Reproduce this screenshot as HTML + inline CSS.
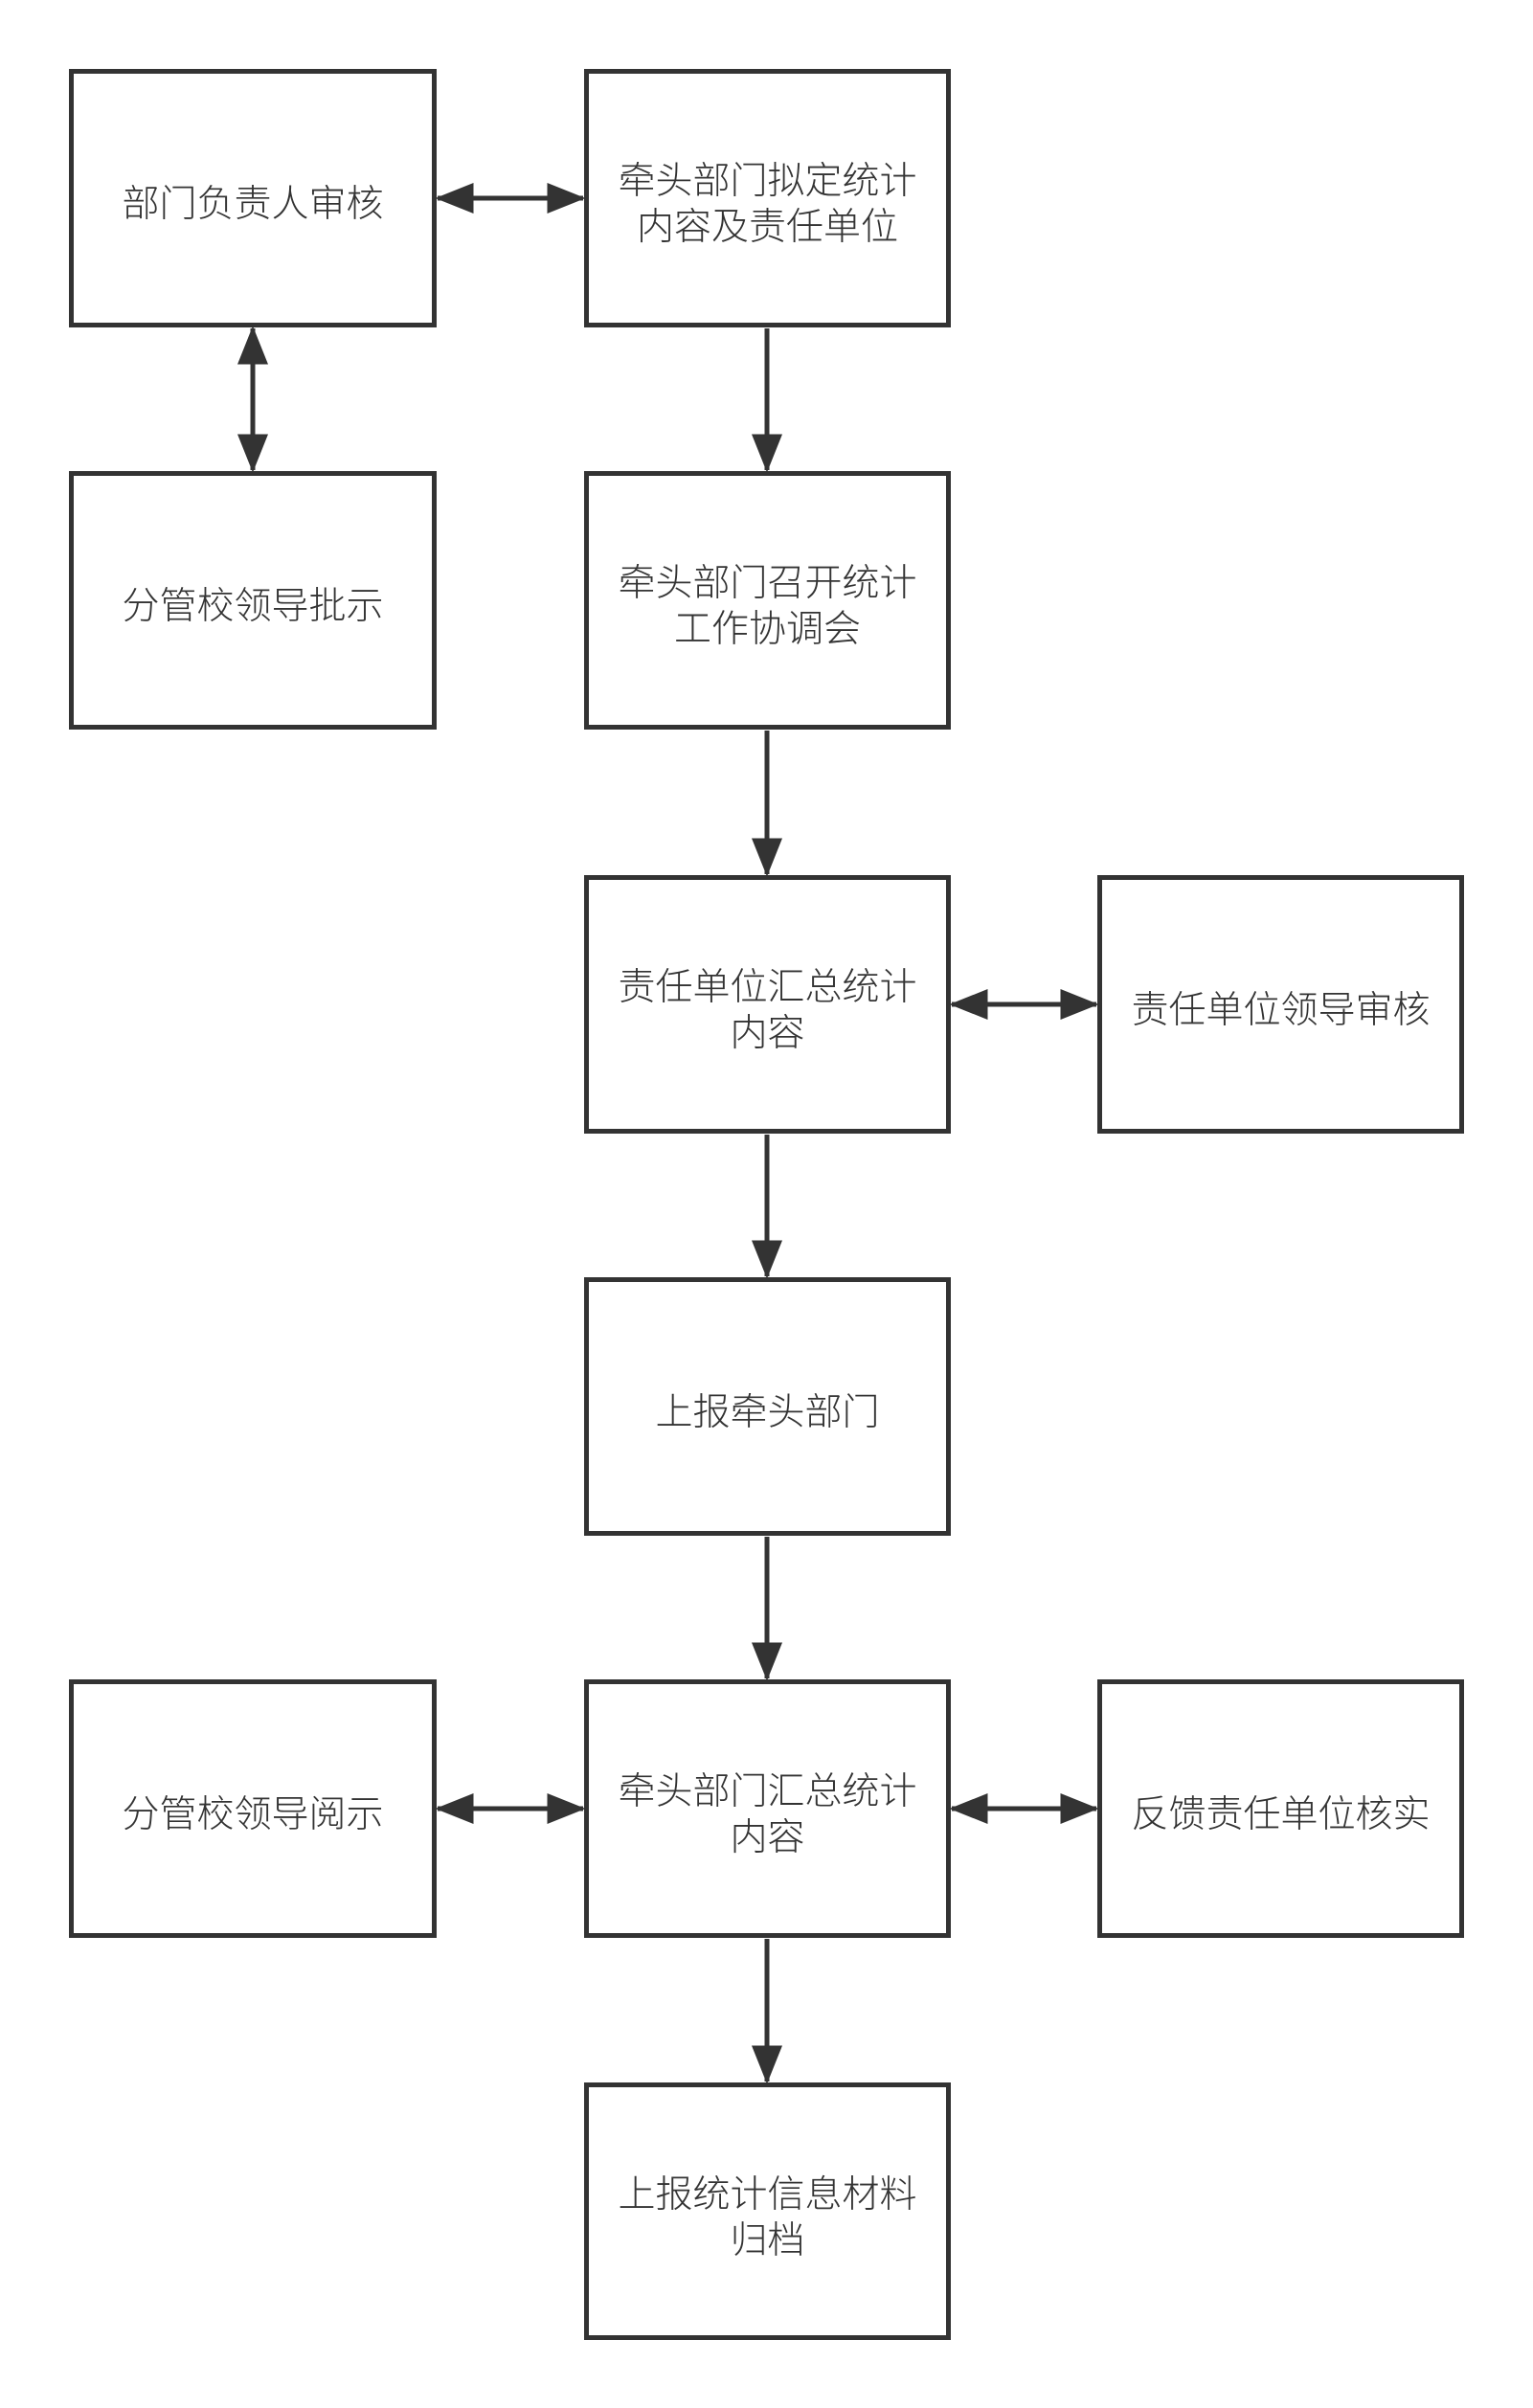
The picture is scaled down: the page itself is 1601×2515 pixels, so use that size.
<!DOCTYPE html>
<html><head><meta charset="utf-8"><style>
html,body{margin:0;padding:0;background:#fff}
body{width:1601px;height:2515px;position:relative;overflow:hidden;font-family:"Liberation Sans","Noto Sans CJK SC",sans-serif;color:#333}
.b{position:absolute;box-sizing:border-box;border:5px solid #333;background:#fff;display:flex;align-items:center;justify-content:center;text-align:center;font-size:39px;line-height:48px;font-weight:300;padding-top:14px}
svg{position:absolute;left:0;top:0}
</style></head><body>
<svg width="1601" height="2515" viewBox="0 0 1601 2515">
<defs>
<marker id="a" markerWidth="8" markerHeight="6.4" refX="7.5" refY="3.2" orient="auto-start-reverse" markerUnits="strokeWidth"><path d="M0,0 L8,3.2 L0,6.4 Z" fill="#333"/></marker>
</defs>
<g stroke="#333" stroke-width="5" fill="none">
<line x1="457" y1="207" x2="609" y2="207" marker-start="url(#a)" marker-end="url(#a)"/>
<line x1="264" y1="343" x2="264" y2="491" marker-start="url(#a)" marker-end="url(#a)"/>
<line x1="801" y1="343" x2="801" y2="491" marker-end="url(#a)"/>
<line x1="801" y1="763" x2="801" y2="913" marker-end="url(#a)"/>
<line x1="994" y1="1049" x2="1145" y2="1049" marker-start="url(#a)" marker-end="url(#a)"/>
<line x1="801" y1="1185" x2="801" y2="1333" marker-end="url(#a)"/>
<line x1="801" y1="1605" x2="801" y2="1753" marker-end="url(#a)"/>
<line x1="457" y1="1889" x2="609" y2="1889" marker-start="url(#a)" marker-end="url(#a)"/>
<line x1="994" y1="1889" x2="1145" y2="1889" marker-start="url(#a)" marker-end="url(#a)"/>
<line x1="801" y1="2025" x2="801" y2="2174" marker-end="url(#a)"/>
</g>
</svg>
<div class="b" style="left:72px;top:72px;width:384px;height:270px">部门负责人审核</div>
<div class="b" style="left:610px;top:72px;width:383px;height:270px">牵头部门拟定统计<br>内容及责任单位</div>
<div class="b" style="left:72px;top:492px;width:384px;height:270px">分管校领导批示</div>
<div class="b" style="left:610px;top:492px;width:383px;height:270px">牵头部门召开统计<br>工作协调会</div>
<div class="b" style="left:610px;top:914px;width:383px;height:270px">责任单位汇总统计<br>内容</div>
<div class="b" style="left:1146px;top:914px;width:383px;height:270px">责任单位领导审核</div>
<div class="b" style="left:610px;top:1334px;width:383px;height:270px">上报牵头部门</div>
<div class="b" style="left:72px;top:1754px;width:384px;height:270px">分管校领导阅示</div>
<div class="b" style="left:610px;top:1754px;width:383px;height:270px">牵头部门汇总统计<br>内容</div>
<div class="b" style="left:1146px;top:1754px;width:383px;height:270px">反馈责任单位核实</div>
<div class="b" style="left:610px;top:2175px;width:383px;height:269px">上报统计信息材料<br>归档</div>
</body></html>
